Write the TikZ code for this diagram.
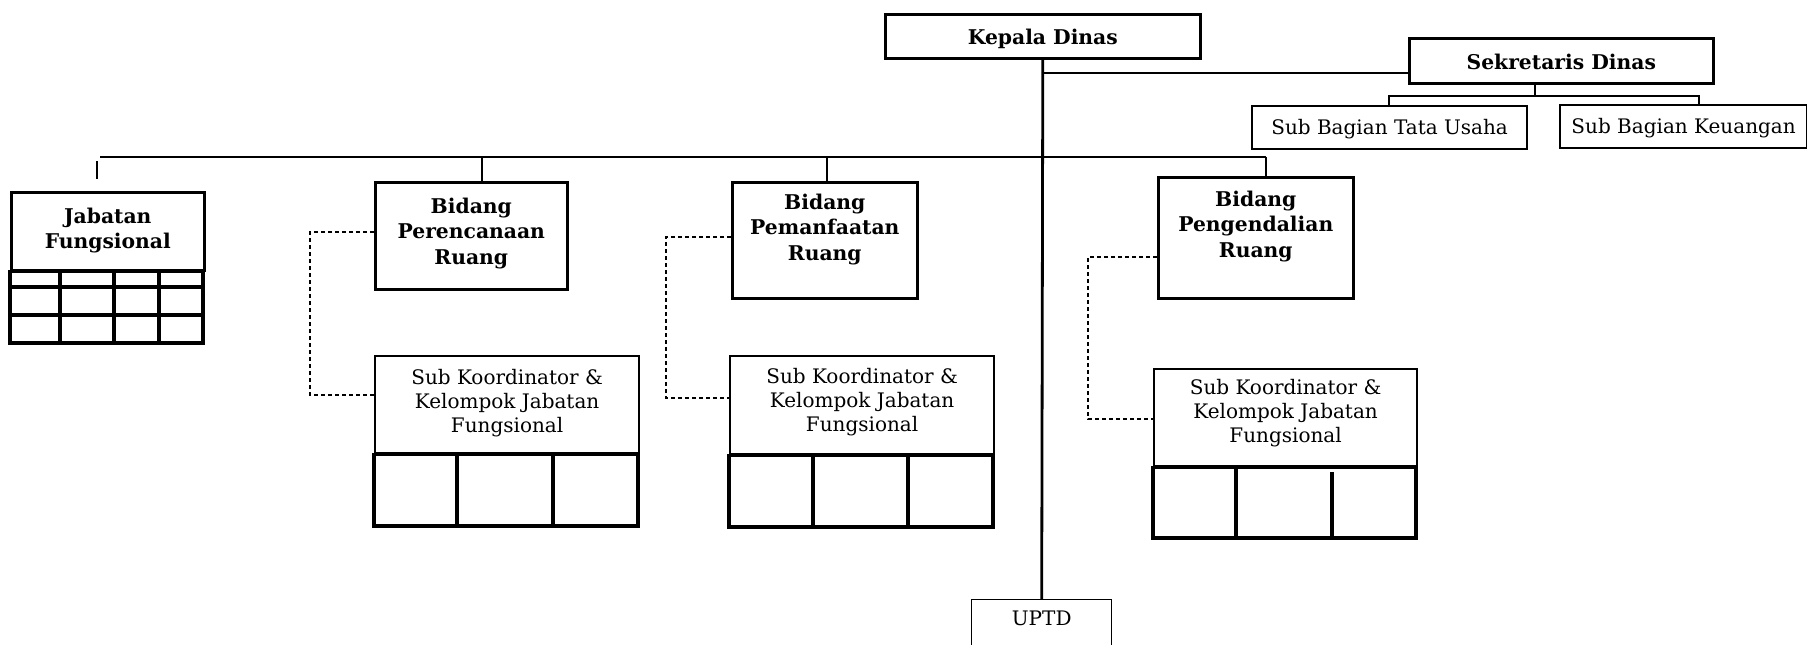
\documentclass[tikz,border=0pt]{standalone}
\usepackage{fontspec}
\setmainfont{DejaVu Serif}
\usepackage{tikz}
\usetikzlibrary{positioning}

\newcommand{\baris}[1]{\begin{tabular}[t]{@{}c@{}}#1\end{tabular}}

\tikzset{
  kotak/.style={draw, line width=2.6pt, inner sep=0pt, anchor=north west,
    font=\fontsize{20.3}{25.5}\selectfont\bfseries},
  kotaksub/.style={kotak, line width=2.2pt, font=\fontsize{20}{24}\selectfont},
  kotaktipis/.style={kotaksub, line width=1.4pt},
  sel/.style={line width=3.4pt},
  garis/.style={line width=2.8pt},
  tipis/.style={line width=1.3pt},
  putus/.style={line width=1.2pt, dash pattern=on 4pt off 3pt}
}

\begin{document}
\begin{tikzpicture}[x=1pt, y=-1pt]
  \useasboundingbox (0,0) rectangle (1807,645);

  % pimpinan
  \node[kotak, minimum width=315pt, text height=30pt, text depth=14pt] (kepala) at (884,13) {Kepala Dinas};
  \node[kotak, minimum width=304pt, text height=31pt, text depth=14pt] (sekretaris) at (1408,37) {Sekretaris Dinas};
  \node[kotaksub, minimum width=275pt, text height=28pt, text depth=15pt] (tatausaha) at (1251,105) {Sub Bagian Tata Usaha};
  \node[kotaksub, minimum width=247pt, text height=28pt, text depth=15pt] (keuangan) at (1559,104) {Sub Bagian Keuangan};

  % bidang
  \node[kotak, minimum width=193pt, text height=31pt, text depth=47pt] (jabfung) at (10,191) {\baris{Jabatan\\Fungsional}};
  \node[kotak, minimum width=192pt, text height=31pt, text depth=76pt] (perencanaan) at (374,181) {\baris{Bidang\\Perencanaan\\Ruang}};
  \node[kotak, minimum width=185pt, text height=27pt, text depth=89pt] (pemanfaatan) at (731,181) {\baris{Bidang\\Pemanfaatan\\Ruang}};
  \node[kotak, minimum width=195pt, text height=29pt, text depth=92pt] (pengendalian) at (1157,176) {\baris{Bidang\\Pengendalian\\Ruang}};

  % sub koordinator
  \node[kotaksub, minimum width=264pt, text height=28pt, text depth=69pt] (sk1) at (374,355) {\baris{Sub Koordinator \&\\Kelompok Jabatan\\Fungsional}};
  \node[kotaksub, minimum width=264pt, text height=27pt, text depth=71pt] (sk2) at (729,355) {\baris{Sub Koordinator \&\\Kelompok Jabatan\\Fungsional}};
  \node[kotaksub, minimum width=263pt, text height=25pt, text depth=72pt] (sk3) at (1153,368) {\baris{Sub Koordinator \&\\Kelompok Jabatan\\Fungsional}};

  \node[kotaktipis, minimum width=140pt, text height=26pt, text depth=60pt] (uptd) at (971,599) {UPTD};

  % kotak-kotak bawah
  \draw[sel] (jabfung.south west) rectangle (203,343);
  \draw[sel] (10,287) -- (203,287) (10,315) -- (203,315);
  \foreach \k in {60,114,159} \draw[sel] (\k,271) -- (\k,343);
  \draw[sel] (sk1.south west) rectangle (638,526);
  \foreach \k in {457,553} \draw[sel] (\k,452) -- (\k,526);
  \draw[sel] (sk2.south west) rectangle (993,527);
  \foreach \k in {813,908} \draw[sel] (\k,453) -- (\k,527);
  \draw[sel] (sk3.south west) rectangle (1416,538);
  \draw[sel] (1236,465) -- (1236,538) (1332,472) -- (1332,538);

  % garis komando
  \coordinate (cabang) at (1041.5,73);
  \coordinate (kiri) at (100,157);
  \coordinate (kanan) at (1266,157);
  \draw[garis] (kepala.south) -- (uptd.north);
  \draw[garis] (cabang) -- (cabang -| sekretaris.west);
  \draw[garis] (kiri) -- (kanan);
  \draw[tipis] (97,161) -- (97,179);
  \draw[tipis] (482,157) -- (482,0 |- perencanaan.north);
  \draw[tipis] (827,157) -- (827,0 |- pemanfaatan.north);
  \draw[tipis] (kanan) -- (kanan |- pengendalian.north);

  \draw[tipis] (1535,0 |- sekretaris.south) -- (1535,96);
  \draw[tipis] (1389,0 |- tatausaha.north) |- (1699,96) -- (1699,0 |- keuangan.north);

  % garis koordinasi
  \draw[putus] (perencanaan.west |- 0,232) -| (310,395) -- (sk1.west |- 0,395);
  \draw[putus] (pemanfaatan.west |- 0,237) -| (666,398) -- (sk2.west |- 0,398);
  \draw[putus] (pengendalian.west |- 0,257) -| (1088,419) -- (sk3.west |- 0,419);
\end{tikzpicture}
\end{document}
